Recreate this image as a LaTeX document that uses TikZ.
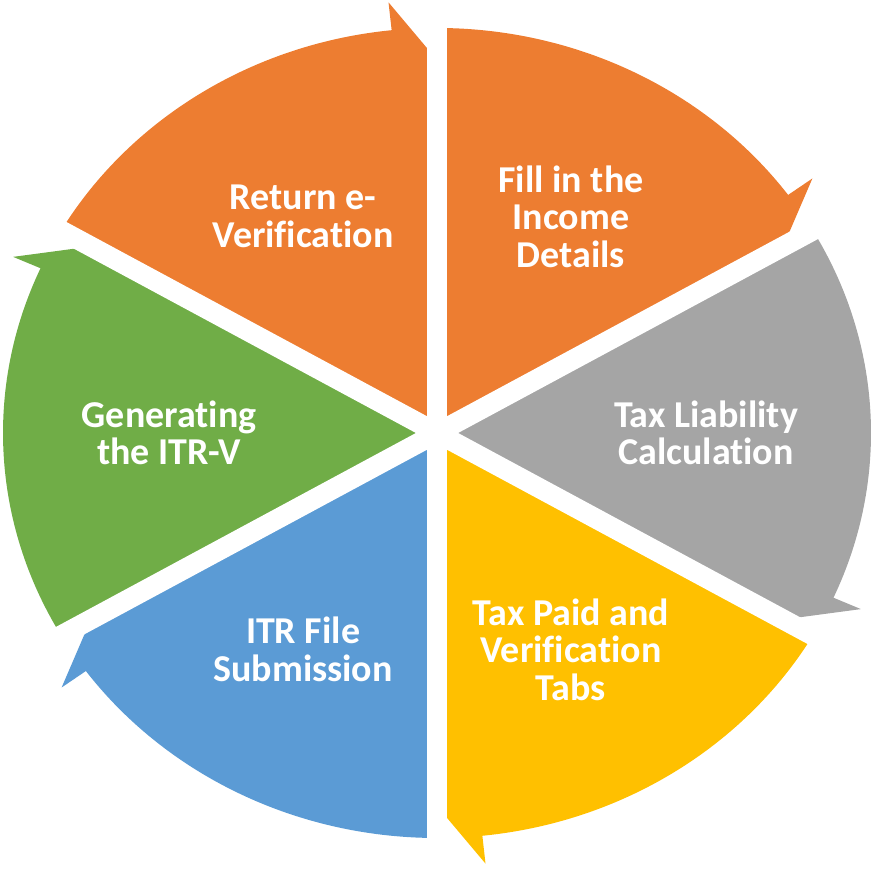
\documentclass[tikz,border=0pt]{standalone}
\usepackage{fontspec}
\setmainfont[Ligatures={NoCommon}]{Carlito}
\usetikzlibrary{calc}
\definecolor{segorange}{HTML}{ED7D31}
\definecolor{seggrey}{HTML}{A5A5A5}
\definecolor{seggold}{HTML}{FFC000}
\definecolor{segblue}{HTML}{5B9BD5}
\definecolor{seggreen}{HTML}{70AD47}
\tikzset{
  % Cycle segment: pie slice, barb of the arrow on the outer rim
  segment/.style={draw=none},
  % White cut between two segments
  gapline/.style={draw=white, line width=2mm, line cap=butt},
  % Step text inside a segment
  seglabel/.style={text=white, align=center, inner sep=0pt,
                   font=\bfseries\fontsize{10.8}{10.7}\selectfont}
}

\begin{document}
\begin{tikzpicture}

\useasboundingbox (0,0) rectangle (8.75,8.70);

\begin{scope}[shift={(4.37,4.37)}, xscale=1.0716]

% ============== SEGMENTS (clockwise, arrow at the end) ==============
\foreach \a/\col in {90/segorange, 30/seggrey, -30/seggold,
                     -90/segblue, -150/seggreen, 150/segorange}
  \fill[segment, \col] (0,0) -- (\a:4.05)
    arc[start angle=\a, end angle=\a-54, radius=4.05]
    -- (\a-54:4.33) -- (\a-60:3.73) -- cycle;

% ============== GAPS ==============
\foreach \a in {90,30,-30,-90,-150,150}
  \draw[gapline] (0,0) -- (\a:4.8);

% ============== LABELS ==============
\node[seglabel] (income)   at (60:2.50)   {Fill in the\\Income\\Details};
\node[seglabel] (liab)     at (0:2.51)    {Tax Liability\\Calculation};
\node[seglabel] (paid)     at (-60:2.50)  {Tax Paid and\\Verification\\Tabs};
\node[seglabel] (submit)   at (-120:2.50) {ITR File\\Submission};
\node[seglabel] (itrv)     at (180:2.50)  {Generating\\the ITR-V};
\node[seglabel] (everify)  at (120:2.50)  {Return e-\\Verification};

\end{scope}

\end{tikzpicture}
\end{document}
